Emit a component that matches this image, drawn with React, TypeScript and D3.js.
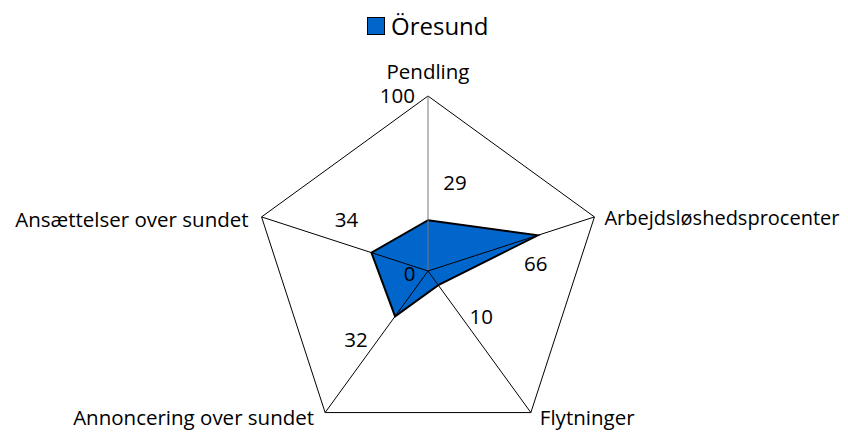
import React from "react";
import * as d3 from "d3";

const categories = ["Pendling", "Arbejdsløshedsprocenter", "Flytninger", "Annoncering over sundet", "Ansættelser over sundet"];
const values = [29, 66, 10, 32, 34];
const seriesName = "Öresund";
const tickLabels = [0, 100];

const W = 848, H = 433;
const cx = 428, cy = 271, R = 175;
const FONT = "'Open Sans', sans-serif";
const FS = 20.5;

export default function App() {
  const r = d3.scaleLinear().domain([0, 100]).range([0, R]);
  const n = categories.length;
  const ang = (i: number) => (i * 2 * Math.PI) / n;
  const pt = (i: number, v: number): [number, number] => [
    cx + r(v) * Math.sin(ang(i)),
    cy - r(v) * Math.cos(ang(i)),
  ];
  const outer = categories.map((_, i) => pt(i, 100));
  const line = d3.line().curve(d3.curveLinearClosed);
  const dataPts = values.map((v, i) => pt(i, v));

  // label placement per axis (offsets to baseline)
  const catAnchor: ("start" | "middle" | "end")[] = ["middle", "start", "start", "end", "end"];
  const catOff: [number, number][] = [[0, -17], [10, 8], [9, 12], [-11, 12], [-13, 10]];
  const catSize = [FS, 20, FS, FS, FS];
  const valOff: [number, number][] = [[27, -30], [-2, 36], [43, 39], [-39, 31], [-25, -26]];

  const top = pt(0, tickLabels[1]);
  const ctr = pt(0, tickLabels[0]);

  return (
    <svg width={W} height={H} style={{ display: "block", position: "absolute", left: 0, top: 0 }}>
      <rect width={W} height={H} fill="#fff" />
      {/* legend */}
      <rect x={367.5} y={17.5} width={17} height={17} fill="#0066CC" stroke="#000" strokeWidth={1} />
      <text x={391} y={35} fontFamily={FONT} fontSize={24} fill="#000">{seriesName}</text>
      {/* outer web */}
      <path d={line(outer) || ""} fill="none" stroke="#000" strokeWidth={1} />
      {/* data */}
      <path d={line(dataPts) || ""} fill="#0066CC" stroke="#000" strokeWidth={2} strokeLinejoin="miter" />
      {/* spokes */}
      {outer.map((p, i) => (
        <line key={i} x1={cx} y1={cy} x2={p[0]} y2={p[1]} stroke={i === 0 ? "#777" : "#000"} strokeWidth={1} />
      ))}
      {/* tick labels */}
      <text x={top[0] - 13} y={top[1] + 7} textAnchor="end" fontFamily={FONT} fontSize={FS} fill="#000">{tickLabels[1]}</text>
      <text x={ctr[0] - 18.5} y={ctr[1] + 10} textAnchor="middle" fontFamily={FONT} fontSize={FS} fill="#000">{tickLabels[0]}</text>
      {/* category labels */}
      {categories.map((c, i) => {
        const p = outer[i];
        return (
          <text key={c} x={p[0] + catOff[i][0]} y={p[1] + catOff[i][1]} textAnchor={catAnchor[i]} fontFamily={FONT} fontSize={catSize[i]} fill="#000">{c}</text>
        );
      })}
      {/* value labels */}
      {values.map((v, i) => {
        const p = dataPts[i];
        return (
          <text key={i} x={p[0] + valOff[i][0]} y={p[1] + valOff[i][1]} textAnchor="middle" fontFamily={FONT} fontSize={FS} fill="#000">{v}</text>
        );
      })}
    </svg>
  );
}
